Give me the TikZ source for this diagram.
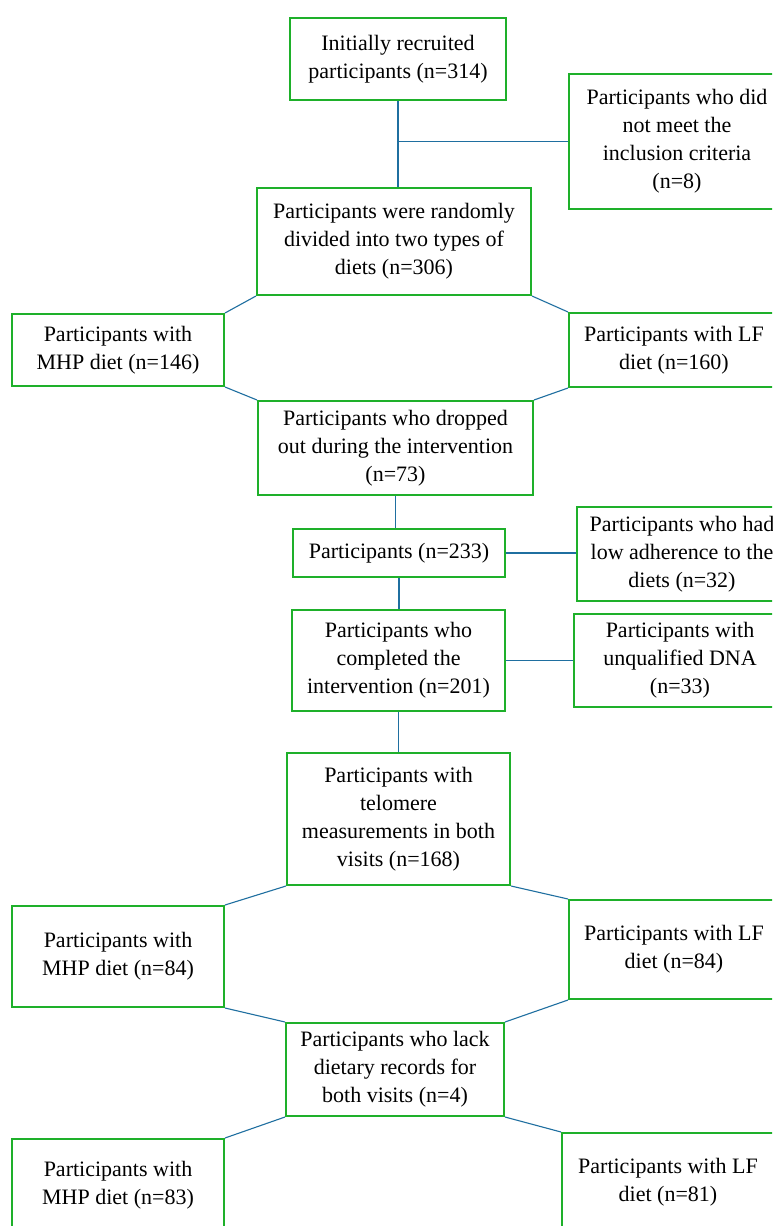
\documentclass[tikz,border=0pt]{standalone}
\usepackage{fontspec}
\setmainfont{Liberation Serif}
\definecolor{boxgreen}{RGB}{30,176,42}
\definecolor{linkblue}{RGB}{31,111,160}
\begin{document}
\begin{tikzpicture}[x=1pt,y=-1pt,
  box/.style={draw=boxgreen, line width=2pt, align=center, inner sep=2pt,
    font=\fontsize{22pt}{28pt}\selectfont, fill=white},
  link/.style={draw=linkblue, line width=1.1pt}]
\useasboundingbox (0,0) rectangle (772,1226);
\clip (0,0) rectangle (772,1226);
\fill[white] (0,0) rectangle (772,1226);
% connectors drawn first, boxes on top
\node[box, minimum width=216pt, minimum height=82pt] (b1) at (398,59) {Initially recruited\\participants (n=314)};
\node[box, minimum width=216pt, minimum height=135pt] (ex1) at (677,141.5) {Participants who did\\not meet the\\inclusion criteria\\(n=8)};
\node[box, minimum width=274pt, minimum height=107pt] (b2) at (394,241.5) {Participants were randomly\\divided into two types of\\diets (n=306)};
\node[box, minimum width=212pt, minimum height=72pt] (mhp1) at (118,350) {Participants with\\MHP diet (n=146)};
\node[box, minimum width=210pt, minimum height=74pt] (lf1) at (674,350) {Participants with LF\\diet (n=160)};
\node[box, minimum width=275pt, minimum height=94pt] (drop) at (395.5,448) {Participants who dropped\\out during the intervention\\(n=73)};
\node[box, minimum width=212pt, minimum height=48pt] (p233) at (399,553) {Participants (n=233)};
\node[box, minimum width=210pt, minimum height=94pt] (low) at (682,554) {Participants who had\\low adherence to the\\diets (n=32)};
\node[box, minimum width=213pt, minimum height=101pt] (comp) at (398.5,660.5) {Participants who\\completed the\\intervention (n=201)};
\node[box, minimum width=212pt, minimum height=93pt] (dna) at (680,660.5) {Participants with\\unqualified DNA\\(n=33)};
\node[box, minimum width=223pt, minimum height=132pt] (telo) at (398.5,819) {Participants with\\telomere\\measurements in both\\visits (n=168)};
\node[box, minimum width=212pt, minimum height=101pt] (mhp2) at (118,956.5) {Participants with\\MHP diet (n=84)};
\node[box, minimum width=210pt, minimum height=99pt] (lf2) at (674,949.5) {Participants with LF\\diet (n=84)};
\node[box, minimum width=218pt, minimum height=93pt] (lack) at (395,1069.5) {Participants who lack\\dietary records for\\both visits (n=4)};
\node[box, minimum width=212pt, minimum height=92pt, anchor=north] (mhp3) at (118,1138) {Participants with\\MHP diet (n=83)};
\node[box, minimum width=212pt, minimum height=98pt, anchor=north] (lf3) at (668,1132) {Participants with LF\\diet (n=81)};
% connectors
\draw[link] (b1.south) -- (b1.south |- b2.north);
\draw[link] (ex1.west) -- (ex1.west -| b1.south);
\draw[link] (b2.south west) -- (mhp1.north east);
\draw[link] (b2.south east) -- (lf1.north west);
\draw[link] (mhp1.south east) -- (drop.north west);
\draw[link] (lf1.south west) -- (drop.north east);
\draw[link] (drop.south) -- (drop.south |- p233.north);
\draw[link] (p233.east) -- (p233.east -| low.west);
\draw[link] (p233.south) -- (p233.south |- comp.north);
\draw[link] (comp.east) -- (comp.east -| dna.west);
\draw[link] (comp.south) -- (comp.south |- telo.north);
\draw[link] (telo.south west) -- (mhp2.north east);
\draw[link] (telo.south east) -- (lf2.north west);
\draw[link] (mhp2.south east) -- (lack.north west);
\draw[link] (lf2.south west) -- (lack.north east);
\draw[link] (lack.south west) -- (mhp3.north east);
\draw[link] (lack.south east) -- (lf3.north west);
\end{tikzpicture}
\end{document}
